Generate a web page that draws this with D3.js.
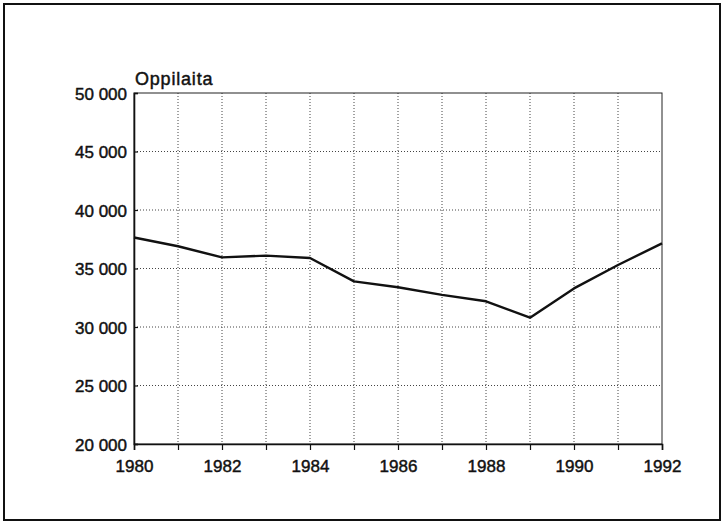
<!DOCTYPE html>
<html><head><meta charset="utf-8">
<script src="https://cdn.jsdelivr.net/npm/d3@7"></script>
<style>body{margin:0;background:#fff}svg{display:block}text{font-family:"Liberation Sans",Arial,Helvetica,sans-serif;fill:#111}</style>
</head><body>
<script>
const years = [1980,1981,1982,1983,1984,1985,1986,1987,1988,1989,1990,1991,1992];
const students = [37650,36900,35950,36100,35900,33900,33400,32750,32200,30800,33300,35300,37150];
const yTicks = [20000,25000,30000,35000,40000,45000,50000];
const xTicks = [1980,1982,1984,1986,1988,1990,1992];
const title = "Oppilaita";

const W=723,H=522;
const svg=d3.select("body").append("svg").attr("width",W).attr("height",H);
svg.append("rect").attr("x",4).attr("y",4).attr("width",716).attr("height",516)
  .attr("fill","none").attr("stroke","#111").attr("stroke-width",2);

const L=134,R=662,T=93,B=444;
const x=d3.scaleLinear().domain([1980,1992]).range([L,R]);
const y=d3.scaleLinear().domain([20000,50000]).range([B,T]);
const fmt=v=>d3.format(",")(v).replace(/,/g," ");

// grid
const g=svg.append("g");
g.selectAll("line.v").data(years.slice(1,-1)).join("line")
  .attr("x1",d=>x(d)).attr("x2",d=>x(d)).attr("y1",T).attr("y2",B)
  .attr("stroke","#444").attr("stroke-width",1).attr("stroke-dasharray","1,2");
g.selectAll("line.h").data(yTicks.slice(1,-1)).join("line")
  .attr("x1",L).attr("x2",R).attr("y1",d=>y(d)).attr("y2",d=>y(d))
  .attr("stroke","#444").attr("stroke-width",1).attr("stroke-dasharray","1,2");

// frame
svg.append("rect").attr("x",L).attr("y",T).attr("width",R-L).attr("height",B-T)
  .attr("fill","none").attr("stroke","#222").attr("stroke-width",1);

// axes
const xa=svg.append("g").attr("transform",`translate(0,${B})`)
  .call(d3.axisBottom(x).tickValues(years).tickSize(6).tickFormat(d=>xTicks.includes(d)?d:""));
xa.select(".domain").attr("stroke","#111").attr("stroke-width",1.6);
xa.selectAll(".tick line").attr("stroke","#111").attr("stroke-width",1.2);
xa.selectAll("text").attr("font-size",17).attr("dy",0).attr("y",28).attr("fill","#111");

const ya=svg.append("g").attr("transform",`translate(${L},0)`)
  .call(d3.axisLeft(y).tickValues(yTicks).tickSize(-4).tickPadding(7).tickFormat(fmt));
ya.select(".domain").attr("stroke","#111").attr("stroke-width",1.6);
ya.selectAll(".tick line").attr("stroke","#111").attr("stroke-width",1.2);
ya.selectAll("text").attr("font-size",17).attr("dy","0.36em").attr("fill","#111");
svg.selectAll(".tick text").attr("font-family",'"Liberation Sans",Arial,sans-serif')
  .attr("stroke","#111").attr("stroke-width",0.45);

svg.append("text").attr("x",135).attr("y",85).attr("font-size",18).attr("letter-spacing",0.8)
  .attr("stroke","#111").attr("stroke-width",0.45).text(title);

const line=d3.line().x((d,i)=>x(years[i])).y(d=>y(d));
svg.append("path").datum(students).attr("d",line).attr("fill","none")
  .attr("stroke","#111").attr("stroke-width",2.4).attr("stroke-linejoin","round");
</script>
</body></html>
